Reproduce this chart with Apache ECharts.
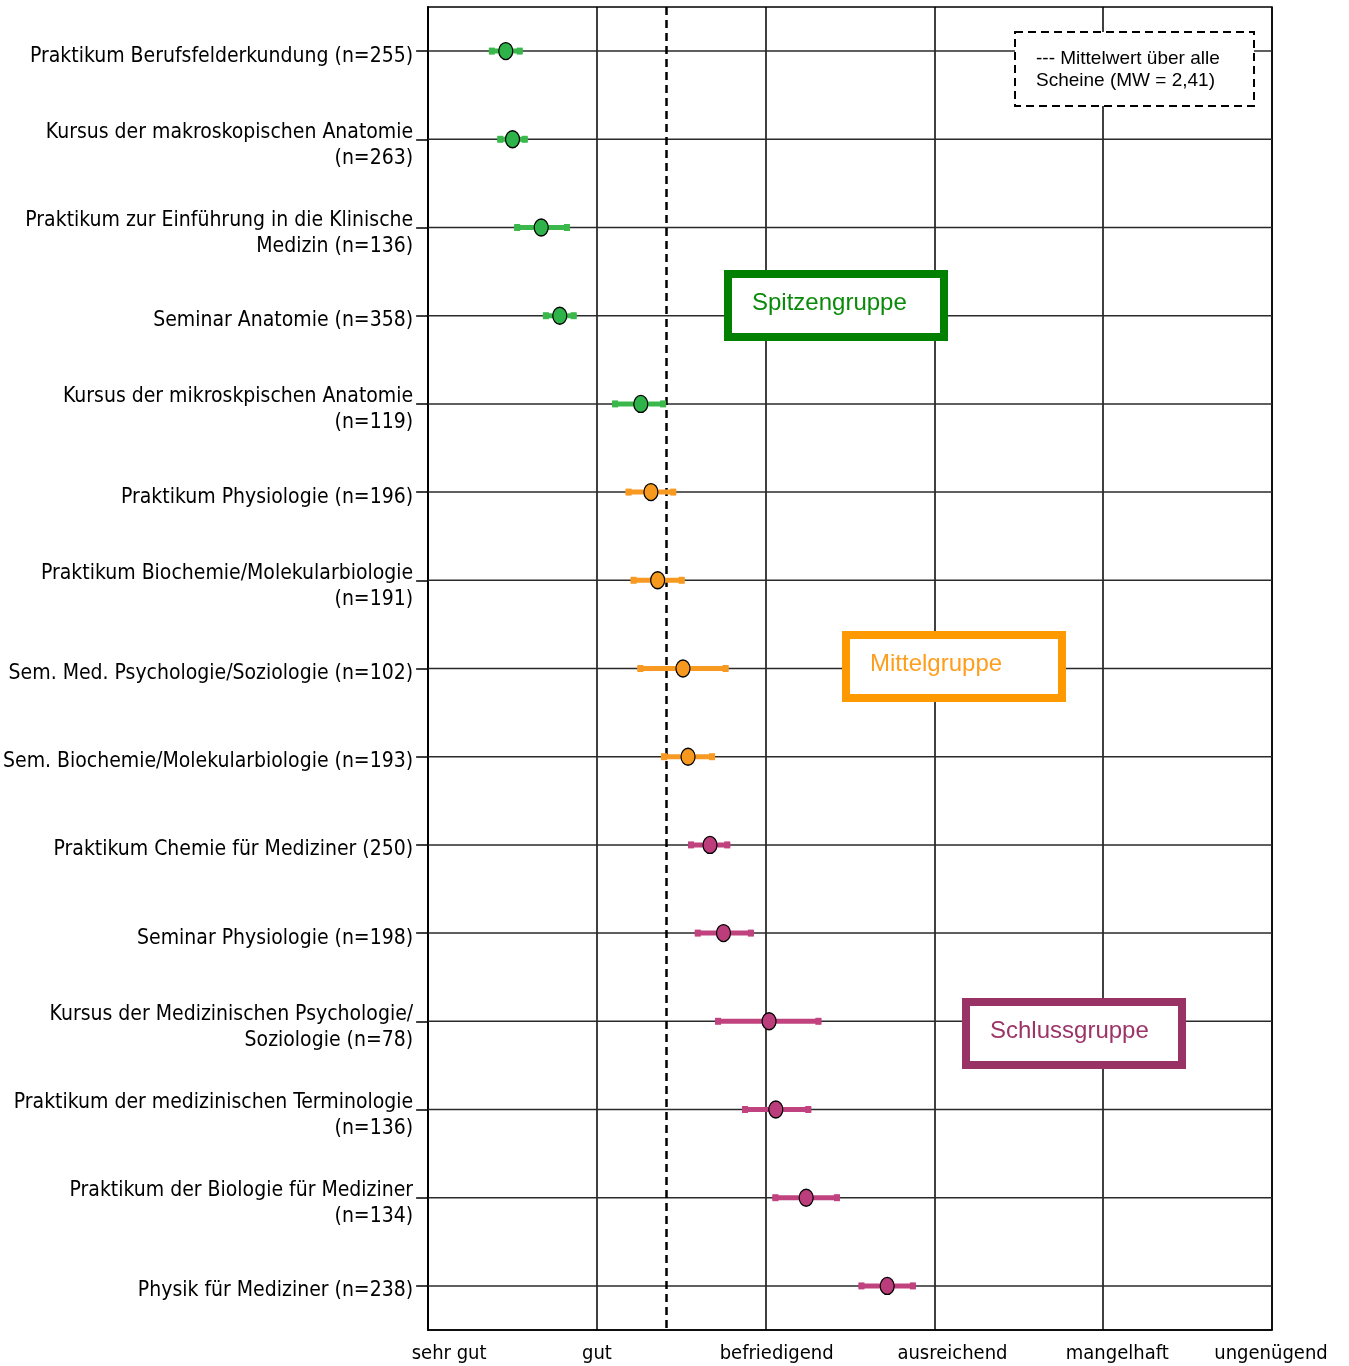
<!DOCTYPE html>
<html>
<head>
<meta charset="utf-8">
<script src="https://cdn.jsdelivr.net/npm/echarts@6/dist/echarts.min.js"></script>
<style>
  html, body { margin: 0; padding: 0; background: #fff; }
  #chart { width: 1349px; height: 1366px; }
</style>
</head>
<body>
<div id="chart"></div>
<script>
// Courses, top to bottom
const courses = [
  'Praktikum Berufsfelderkundung (n=255)',
  'Kursus der makroskopischen Anatomie\n(n=263)',
  'Praktikum zur Einführung in die Klinische\nMedizin (n=136)',
  'Seminar Anatomie (n=358)',
  'Kursus der mikroskpischen Anatomie\n(n=119)',
  'Praktikum Physiologie (n=196)',
  'Praktikum Biochemie/Molekularbiologie\n(n=191)',
  'Sem. Med. Psychologie/Soziologie (n=102)',
  'Sem. Biochemie/Molekularbiologie (n=193)',
  'Praktikum Chemie für Mediziner (250)',
  'Seminar Physiologie (n=198)',
  'Kursus der Medizinischen Psychologie/\nSoziologie (n=78)',
  'Praktikum der medizinischen Terminologie\n(n=136)',
  'Praktikum der Biologie für Mediziner\n(n=134)',
  'Physik für Mediziner (n=238)'
];
// Mean grade per course
const means = [1.46, 1.50, 1.67, 1.78, 2.26, 2.32, 2.36, 2.51, 2.54, 2.67, 2.75, 3.02, 3.06, 3.24, 3.72];
// Confidence interval bounds
const lower = [1.36, 1.41, 1.51, 1.68, 2.09, 2.17, 2.20, 2.24, 2.38, 2.54, 2.58, 2.70, 2.86, 3.04, 3.55];
const upper = [1.56, 1.59, 1.84, 1.88, 2.41, 2.47, 2.52, 2.78, 2.70, 2.79, 2.93, 3.33, 3.27, 3.44, 3.89];
// Ranking group of each course
const groupOf = ['top', 'top', 'top', 'top', 'top',
                 'mid', 'mid', 'mid', 'mid',
                 'low', 'low', 'low', 'low', 'low', 'low'];
// Grade scale
const gradeLabels = ['sehr gut', 'gut', 'befriedigend', 'ausreichend', 'mangelhaft', 'ungenügend'];
const overallMean = 2.41;
const groupTitles = { top: 'Spitzengruppe', mid: 'Mittelgruppe', low: 'Schlussgruppe' };

const dotColor = { top: '#2db34a', mid: '#f7981f', low: '#bb3d7b' };
const barColor = { top: '#3bb84b', mid: '#f89a22', low: '#c0427f' };
const boxColor = { top: '#028002', mid: '#ff9900', low: '#993366' };
const boxText  = { top: '#0a8a0a', mid: '#ff9d1c', low: '#9c3468' };

const narrow = '"Liberation Sans Narrow", "Arial Narrow", "DejaVu Sans Condensed", sans-serif';
const sans = '"Liberation Sans", Arial, sans-serif';

// horizontal nudges of the grade labels under the axis
const gradeShift = [21, 0, 11, 18, 14, -1];
const gradeRich = {};
gradeLabels.forEach((g, i) => {
  const s = gradeShift[i];
  gradeRich['g' + i] = {
    fontFamily: narrow, fontSize: 20, color: '#000',
    padding: s >= 0 ? [0, 0, 0, 2 * s] : [0, -2 * s, 0, 0]
  };
});

// course labels sit slightly below their row line (top padding pushes each line down by half its value)
const labelFont = { fontFamily: narrow, fontSize: 21, color: '#000', lineHeight: 26 };
const courseRich = {
  single: Object.assign({ padding: [10, 0, 0, 0] }, labelFont),
  multi:  Object.assign({ padding: [12, 0, 0, 0] }, labelFont)
};
const courseFormatter = v => {
  const lines = v.split('\n');
  const tag = lines.length === 1 ? 'single' : 'multi';
  return lines.map(line => '{' + tag + '|' + line + '}').join('\n');
};

const rowData = courses.map((c, i) => [i]);
const ciData = courses.map((c, i) => [lower[i], upper[i], i]);
const dotData = courses.map((c, i) => ({
  value: [means[i], i],
  itemStyle: { color: dotColor[groupOf[i]] }
}));

const chart = echarts.init(document.getElementById('chart'), null, { renderer: 'canvas' });

function groupBox(key, x, y) {
  return [
    {
      type: 'rect', z: 100,
      shape: { x: x, y: y, width: 216, height: 63 },
      style: { fill: '#fff', stroke: boxColor[key], lineWidth: 8 }
    },
    {
      type: 'text', z: 101,
      x: x + 24, y: y + 29,
      style: { text: groupTitles[key], fill: boxText[key], font: '24px ' + sans, verticalAlign: 'middle' }
    }
  ];
}

chart.setOption({
  animation: false,
  grid: { left: 427, right: 77, top: 7, bottom: 36, show: true, borderColor: '#000', borderWidth: 1.5 },
  xAxis: {
    type: 'value', min: 1, max: 6, interval: 1,
    axisLine: { show: true, lineStyle: { color: '#000', width: 1.5 } },
    axisTick: { show: false },
    splitLine: { show: true, lineStyle: { color: '#000', width: 1.5 } },
    axisLabel: {
      margin: 14,
      formatter: v => '{g' + (v - 1) + '|' + gradeLabels[v - 1] + '}',
      rich: gradeRich
    }
  },
  yAxis: {
    type: 'category', data: courses, inverse: true,
    axisLine: { show: true, lineStyle: { color: '#000', width: 2 } },
    axisTick: { show: true, alignWithLabel: true, length: 12, lineStyle: { color: '#000', width: 1.5 } },
    splitLine: { show: false },
    axisLabel: {
      margin: 15,
      fontFamily: narrow, fontSize: 21, color: '#000', lineHeight: 26,
      formatter: courseFormatter,
      rich: courseRich
    }
  },
  graphic: [
    {
      type: 'rect', z: 100,
      shape: { x: 1015, y: 32, width: 239, height: 74 },
      style: { fill: '#fff', stroke: '#000', lineWidth: 2, lineDash: [8, 5] }
    },
    {
      type: 'text', z: 101, x: 1036, y: 59,
      style: { text: '--- Mittelwert über alle', fill: '#000', font: '19px ' + sans, verticalAlign: 'middle' }
    },
    {
      type: 'text', z: 101, x: 1036, y: 81,
      style: { text: 'Scheine (MW = 2,41)', fill: '#000', font: '19px ' + sans, verticalAlign: 'middle' }
    },
    ...groupBox('top', 728, 274),
    ...groupBox('mid', 846, 635),
    ...groupBox('low', 966, 1002)
  ],
  series: [
    {
      // row guide lines across the plot
      type: 'custom', z: 1, silent: true,
      data: rowData,
      encode: { y: 0 },
      renderItem: (params, api) => {
        const a = api.coord([1, api.value(0)]);
        const b = api.coord([6, api.value(0)]);
        return {
          type: 'line',
          shape: { x1: a[0], y1: a[1], x2: b[0], y2: b[1] },
          style: { stroke: '#2a2a2a', lineWidth: 1.5 }
        };
      }
    },
    {
      // confidence intervals
      type: 'custom', z: 3, silent: true,
      data: ciData,
      encode: { x: [0, 1], y: 2 },
      renderItem: (params, api) => {
        const key = groupOf[params.dataIndex];
        const a = api.coord([api.value(0), api.value(2)]);
        const b = api.coord([api.value(1), api.value(2)]);
        const c = barColor[key];
        return {
          type: 'group',
          children: [
            { type: 'rect', shape: { x: a[0], y: a[1] - 2.5, width: b[0] - a[0], height: 5 }, style: { fill: c } },
            { type: 'rect', shape: { x: a[0], y: a[1] - 3.5, width: 6, height: 7 }, style: { fill: c } },
            { type: 'rect', shape: { x: b[0] - 6, y: b[1] - 3.5, width: 6, height: 7 }, style: { fill: c } }
          ]
        };
      }
    },
    {
      type: 'scatter', z: 4,
      data: dotData,
      symbol: 'circle',
      symbolSize: [14, 17],
      itemStyle: { borderColor: '#000', borderWidth: 1.3, opacity: 1 },
      markLine: {
        silent: true, symbol: 'none', z: 2,
        label: { show: false },
        lineStyle: { color: '#000', width: 2.5, type: [8, 5] },
        data: [{ xAxis: overallMean }]
      }
    }
  ]
});
</script>
</body>
</html>
